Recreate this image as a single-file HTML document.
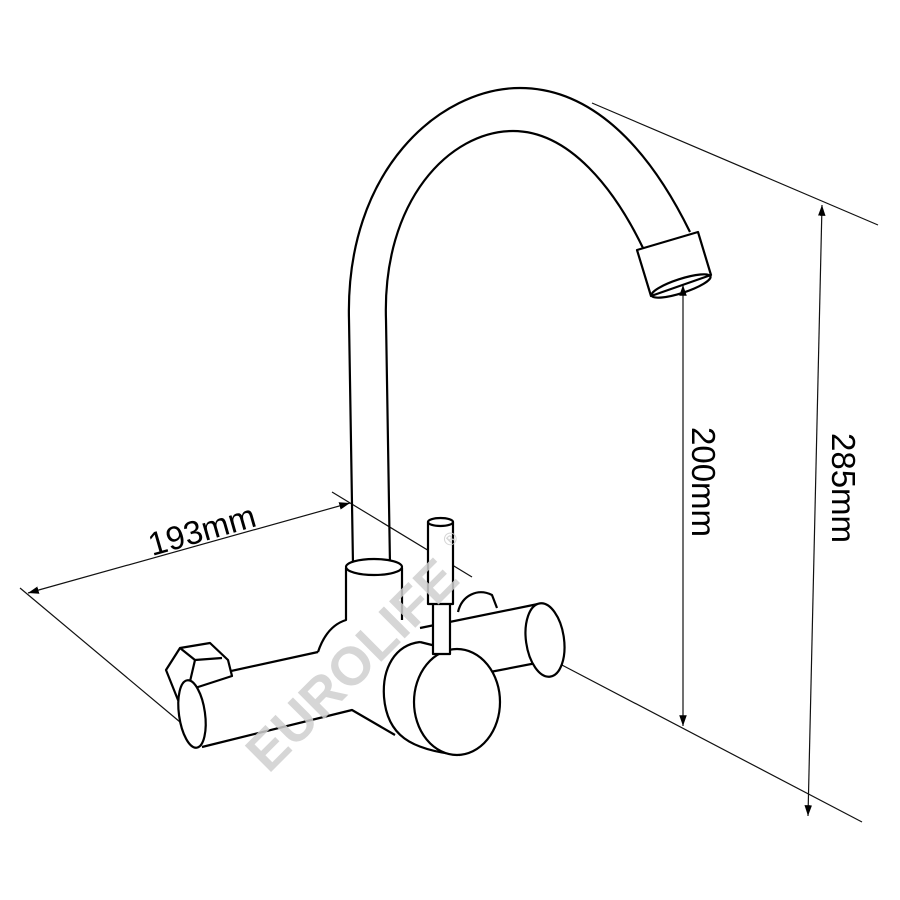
<!DOCTYPE html>
<html><head><style>html,body{margin:0;padding:0;background:#fff}svg{display:block}</style></head><body>
<svg width="900" height="900" viewBox="0 0 900 900" xmlns="http://www.w3.org/2000/svg">
<defs>
<marker id="a" viewBox="0 0 10 10" refX="10" refY="5" markerWidth="9" markerHeight="9" orient="auto-start-reverse"><path d="M0,1.5 L10,5 L0,8.5 z" fill="#000"/></marker>
</defs>
<g fill="none" stroke="#111" stroke-width="1.2">
<line x1="592" y1="103" x2="878" y2="225"/>
<line x1="332" y1="492" x2="472" y2="577"/>
<line x1="560" y1="664" x2="862" y2="822"/>
<line x1="20" y1="588" x2="180" y2="722"/>
<line x1="822" y1="205" x2="808" y2="816" marker-start="url(#a)" marker-end="url(#a)"/>
<line x1="683" y1="285" x2="683" y2="726" marker-start="url(#a)" marker-end="url(#a)"/>
<line x1="28" y1="593" x2="350" y2="503" marker-start="url(#a)" marker-end="url(#a)"/>
</g>
<g fill="none" stroke="#000" stroke-width="2.2" stroke-linejoin="round">
<path d="M353,565 L349,320 C345,170 440,88 520,88 C580,88 640,130 690,232"/>
<path d="M390,565 L386,320 C382,200 450,131 513,131 C570,131 615,190 643,248"/>
<path d="M637,250 L698,232 L711,275 L651,296 Z" fill="#fff"/>
<ellipse cx="681" cy="286" rx="31" ry="7" transform="rotate(-18 681 286)"/>
<path d="M346,568 L346,620 C330,625 322,640 318,652"/>
<path d="M402,568 L402,620"/>
<ellipse cx="374" cy="567" rx="28" ry="8" fill="#fff"/>
<path d="M190,680 L318,652"/>
<path d="M202,747 L352,710 L395,735"/>
<path d="M178,700 L166,670 L180,648 L210,643 L228,660 L232,676 L195,688 Z" fill="#fff"/>
<path d="M180,648 L195,660 L222,658"/>
<path d="M195,660 L188,690"/>
<ellipse cx="192" cy="714" rx="13" ry="34" transform="rotate(-8 192 714)" fill="#fff"/>
<path d="M458,612 C462,595 478,588 492,595 L497,608" />
<path d="M420,628 L538,604"/>
<path d="M490,672 L552,660"/>
<ellipse cx="545" cy="640" rx="19" ry="37" transform="rotate(-8 545 640)" fill="#fff"/>
<path d="M420,642 C395,645 382,668 384,697 C387,735 410,750 460,755" fill="#fff"/>
<path d="M420,642 L452,650"/>
<ellipse cx="457" cy="702" rx="43" ry="53" fill="#fff"/>
<rect x="433" y="602" width="17" height="52" fill="#fff"/>
<rect x="428" y="522" width="25" height="82" fill="#fff"/>
<ellipse cx="440.5" cy="522" rx="12.5" ry="4" fill="#fff"/>
</g>
<g font-family="Liberation Sans, sans-serif" font-size="33" fill="#000">
<text transform="translate(205,541) rotate(-16)" text-anchor="middle">193mm</text>
<text transform="translate(692,482) rotate(90)" text-anchor="middle">200mm</text>
<text transform="translate(832,488) rotate(90)" text-anchor="middle">285mm</text>
</g>
<g fill="#cfcfcf" font-family="Liberation Sans, sans-serif" font-weight="bold" opacity="0.85">
<text transform="translate(365,678) rotate(-45)" text-anchor="middle" font-size="54">EUROLIFE</text>
<text transform="translate(450,548) rotate(-45)" font-size="18">®</text>
</g>
</svg>
</body></html>
